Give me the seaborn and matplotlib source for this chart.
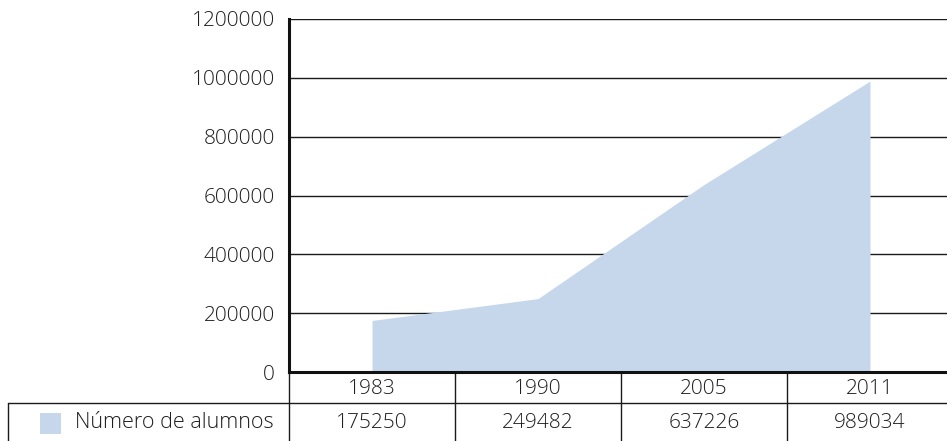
import numpy as np
import pandas as pd
import matplotlib
matplotlib.use("Agg")
import matplotlib.pyplot as plt
import matplotlib.transforms as mtransforms
from matplotlib.patches import Rectangle
import seaborn as sns

# ── Data ────────────────────────────────────────────────────
years = ["1983", "1990", "2005", "2011"]
alumnos = [175250, 249482, 637226, 989034]
serie = "Número de alumnos"
y_ticks = [0, 200000, 400000, 600000, 800000, 1000000, 1200000]

df = pd.DataFrame({"year": years, "alumnos": alumnos})
df["pos"] = np.arange(len(df))

FILL = "#c6d7ec"
TXT = "#1f1f1f"
FS = 15
FW = "light"

sns.set_style("white")
plt.rcParams["font.family"] = ["Open Sans", "DejaVu Sans"]

fig = plt.figure(figsize=(9.47, 4.41), dpi=100)
ax = fig.add_axes([289 / 947, 1 - 372 / 441, 664 / 947, 353 / 441])

# area: line through category centres, filled down to zero
sns.lineplot(data=df, x="pos", y="alumnos", ax=ax, linewidth=0, color=FILL)
ax.fill_between(df["pos"], 0, df["alumnos"], color=FILL, linewidth=0, zorder=2)

ax.set_xlim(-0.5, len(df) - 0.5)
ax.set_ylim(0, 1200000)
ax.set_yticks(y_ticks)
ax.set_yticklabels([str(v) for v in y_ticks], fontsize=FS, color=TXT,
                   fontweight=FW)
ax.set_xticks([])
ax.set_xlabel("")
ax.set_ylabel("")
ax.tick_params(axis="y", length=0, pad=10)

for v in y_ticks[1:]:
    ax.axhline(v, color="#1a1a1a", lw=1.0, zorder=1)

ax.spines["right"].set_visible(False)
ax.spines["top"].set_visible(False)
ax.spines["left"].set_linewidth(2.2)
ax.spines["bottom"].set_linewidth(2.2)
ax.spines["left"].set_color("#111111")
ax.spines["bottom"].set_color("#111111")

# ── Data table below the axis ───────────────────────────────
blend = mtransforms.blended_transform_factory(ax.transData, fig.transFigure)
row1_top = 1 - 372 / 441
row1_bot = 1 - 403 / 441
fig_bot = 0.0

# vertical separators between categories
for x in np.arange(-0.5, len(df) - 0.5 + 1e-9, 1.0):
    ax.plot([x, x], [row1_top, fig_bot], transform=blend, color="#1a1a1a",
            lw=1.0, clip_on=False)
# line under the year row, continues over legend cell
fig.add_artist(plt.Line2D([8 / 947, 1.0], [row1_bot, row1_bot],
                          transform=fig.transFigure, color="#1a1a1a", lw=1.0))
fig.add_artist(plt.Line2D([8 / 947, 8 / 947], [row1_bot, fig_bot],
                          transform=fig.transFigure, color="#1a1a1a", lw=1.0))

row1_mid = 1 - 389 / 441
row2_mid = 1 - 423 / 441
for p, yr, v in zip(df["pos"], df["year"], df["alumnos"]):
    ax.text(p, row1_mid, yr, transform=blend, ha="center", va="center",
            fontsize=FS, color=TXT, fontweight=FW)
    ax.text(p, row2_mid, str(v), transform=blend, ha="center", va="center",
            fontsize=FS, color=TXT, fontweight=FW)

fig.add_artist(Rectangle((40 / 947, 1 - 434 / 441), 21 / 947, 21 / 441,
                         transform=fig.transFigure, color=FILL, lw=0))
fig.text(75 / 947, row2_mid, serie, ha="left", va="center",
         fontsize=15.5, color=TXT, fontweight=FW)

fig.savefig("out.png", dpi=100)
